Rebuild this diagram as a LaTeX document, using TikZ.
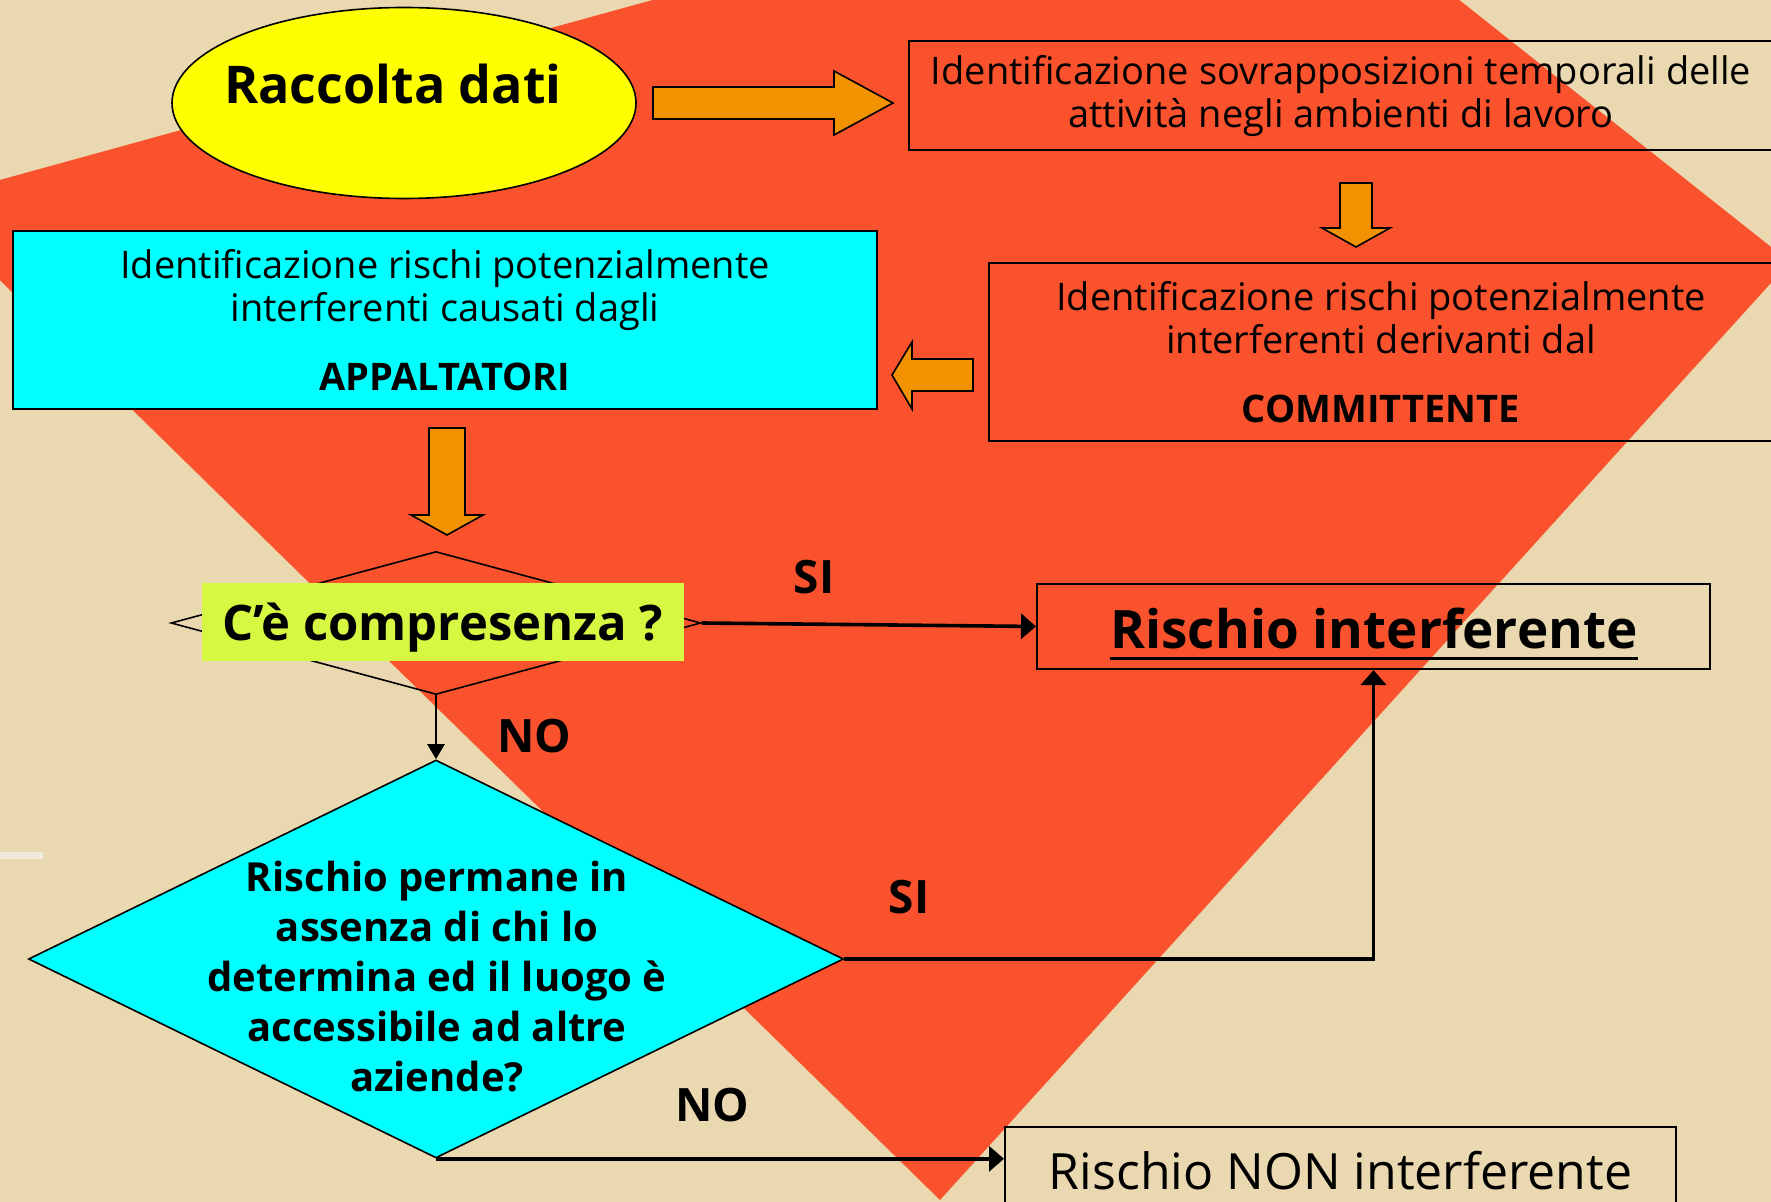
\documentclass[tikz,border=0pt]{standalone}
\usepackage{fontspec}
\setmainfont{Open Sans}
\usetikzlibrary{shapes.geometric,arrows.meta}

\definecolor{carta}{RGB}{234,217,176}
\definecolor{rosso}{RGB}{251,82,46}
\definecolor{giallo}{RGB}{255,255,0}
\definecolor{ciano}{RGB}{0,255,255}
\definecolor{arancio}{RGB}{242,146,0}
\definecolor{lime}{RGB}{214,248,66}
\definecolor{chiaro}{RGB}{240,234,220}

% underline with a thicker rule
\newcommand{\sotto}[1]{\setbox0=\hbox{#1}\rlap{\rule[-5.5pt]{\wd0}{1.5pt}}\box0}

\tikzset{
  casella/.style={draw, line width=1pt, inner sep=0pt, align=center,
    font=\fontsize{19}{21.5}\selectfont},
  rombo/.style={diamond, draw, line width=0.8pt, inner sep=0pt},
  freccia/.style={draw, line width=0.8pt, fill=arancio},
  collega/.style={line width=1.8pt, -{Triangle[length=7.5pt,width=12.5pt]}},
  etichetta/.style={font=\bfseries\fontsize{23}{23}\selectfont, inner sep=0pt},
}

\begin{document}
\begin{tikzpicture}[x=0.5pt, y=-0.5pt]
    \clip (0,0) rectangle (1771,1202);
    \fill [carta] (0,0) rectangle (1771,1202);
    \fill [rosso] (-80,202) -- (1251,-165) -- (1790,262) -- (940,1200) -- cycle;
    \fill [chiaro] (0,852) rectangle (43,859);

    % top row
    \node [ellipse, draw, line width=0.8pt, fill=giallo, minimum width=232pt,
        minimum height=95.5pt, inner sep=0pt] (dati) at (404,103) {};
    \node [font=\bfseries\fontsize{26}{26}\selectfont, inner sep=0pt]
        (datitxt) at (393,84) {Raccolta dati};
    \node [casella, minimum width=432pt, minimum height=54.5pt] (sovra)
        at (1341,96) {Identificazione sovrapposizioni temporali delle\\
        attività negli ambienti di lavoro};
    \node [casella, minimum width=392pt, minimum height=89pt] (committ)
        at (1381,352) {Identificazione rischi potenzialmente\\
        interferenti derivanti dal\\[13pt]\textbf{COMMITTENTE}};
    \node [casella, fill=ciano, minimum width=432pt, minimum height=89pt]
        (appalt) at (445,320) {Identificazione rischi potenzialmente\\
        interferenti causati dagli\\[13pt]\textbf{APPALTATORI}};

    % block arrows
    \draw [freccia] (653,87) -- (834,87) -- (834,71) -- (893,103) -- (834,135)
        -- (834,119) -- (653,119) -- cycle;
    \draw [freccia] (1340,183) -- (1372,183) -- (1372,228) -- (1390,228)
        -- (1356,247) -- (1322,228) -- (1340,228) -- cycle;
    \draw [freccia] (973,359) -- (912,359) -- (912,342) -- (892,375)
        -- (912,409) -- (912,391) -- (973,391) -- cycle;
    \draw [freccia] (429,428) -- (465,428) -- (465,515) -- (483,515)
        -- (447,535) -- (411,515) -- (429,515) -- cycle;

    % decisions
    \node [rombo, minimum width=265pt, minimum height=71.5pt] (compr)
        at (436,623) {};
    \node [fill=lime, minimum width=241pt, minimum height=39pt, inner sep=0pt,
        text depth=0pt, font=\bfseries\fontsize{24.5}{24.5}\selectfont]
        (comprtxt) at (443,622) {C’è compresenza ?};
    \node [rombo, fill=ciano, minimum width=407.5pt, minimum height=199pt]
        (perm) at (436,959) {};
    \node [align=center, inner sep=0pt, font=\bfseries\fontsize{20}{25}\selectfont]
        (permtxt) at (437,977) {Rischio permane in\\assenza di chi lo\\
        determina ed il luogo è\\accessibile ad altre\\aziende?};

    % outcomes
    \node [casella, minimum width=336.5pt, minimum height=42.5pt] (rint)
        at (1373.5,626.5) {};
    \node [inner sep=0pt, font=\bfseries\fontsize{26.5}{26.5}\selectfont]
        (rinttxt) at (1374,634) {\sotto{Rischio interferente}};
    \node [casella, minimum width=335.5pt, minimum height=44pt,
        font=\fontsize{25}{25}\selectfont] (rnon)
        at (1340.5,1171) {Rischio NON interferente};

    \draw [collega] (compr.east) -- (rint.west);
    \draw [collega, line width=1.3pt,
        -{Triangle[length=7.5pt,width=8.5pt]}] (compr.south) -- (perm.north);
    \draw [collega] (perm.east) -| (rint.south);
    \draw [collega] (perm.south) -- (perm.south -| rnon.west);

    \node [etichetta] (si1) at (814,577) {SI};
    \node [etichetta] (no1) at (534,736) {NO};
    \node [etichetta] (si2) at (909,897) {SI};
    \node [etichetta] (no2) at (712,1105) {NO};
\end{tikzpicture}
\end{document}
